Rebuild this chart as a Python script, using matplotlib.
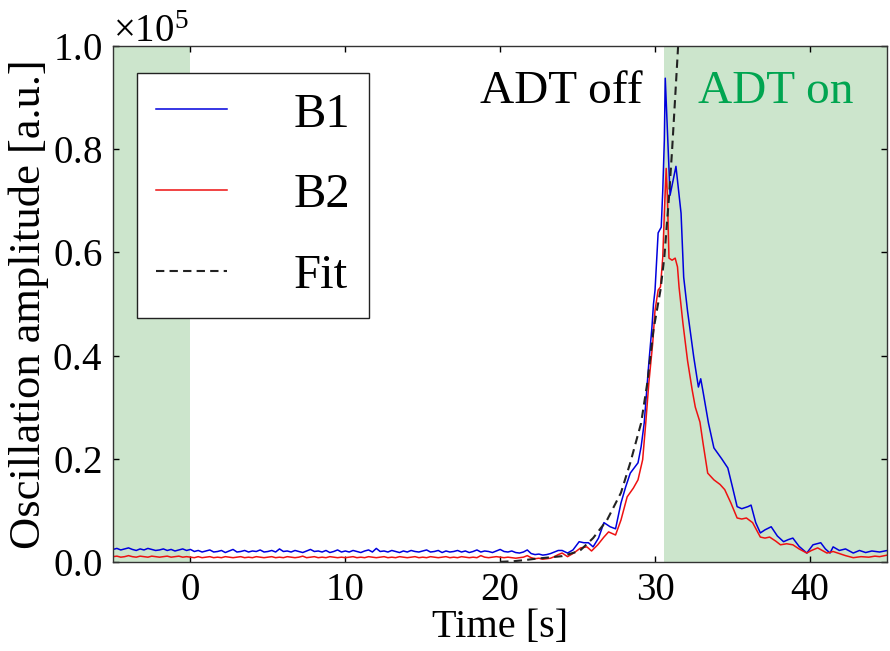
import numpy as np
import matplotlib
matplotlib.use("Agg")
import matplotlib.pyplot as plt

plt.rcParams['font.family'] = ['Liberation Serif', 'DejaVu Serif']
plt.rcParams['mathtext.fontset'] = 'custom'
plt.rcParams['mathtext.rm'] = 'Liberation Serif'
plt.rcParams['mathtext.it'] = 'Liberation Serif:italic'

# ---------------- data (amplitudes in units of 1e5) ----------------
# baseline sampling times (s)
t_base = np.arange(-5.0, 24.0, 0.25)

b1_base = [
    0.024, 0.026, 0.023, 0.025, 0.027, 0.024, 0.022, 0.025, 0.023, 0.026,
    0.024, 0.022, 0.023, 0.025, 0.022, 0.024, 0.021, 0.023, 0.025, 0.022,
    0.024, 0.020, 0.022, 0.019, 0.021, 0.023, 0.019, 0.020, 0.022, 0.018,
    0.021, 0.024, 0.019, 0.020, 0.022, 0.019, 0.021, 0.020, 0.023, 0.019,
    0.020, 0.022, 0.019, 0.025, 0.020, 0.021, 0.019, 0.022, 0.020, 0.018,
    0.021, 0.024, 0.020, 0.021, 0.019, 0.022, 0.018, 0.020, 0.023, 0.019,
    0.021, 0.019, 0.022, 0.020, 0.018, 0.021, 0.023, 0.019, 0.026, 0.020,
    0.021, 0.019, 0.022, 0.020, 0.018, 0.021, 0.019, 0.022, 0.020, 0.019,
    0.021, 0.023, 0.019, 0.020, 0.022, 0.018, 0.021, 0.019, 0.020, 0.022,
    0.019, 0.021, 0.018, 0.020, 0.023, 0.019, 0.021, 0.020, 0.018, 0.021,
    0.024, 0.020, 0.019, 0.021, 0.018, 0.017, 0.019, 0.023, 0.016, 0.014,
    0.015, 0.013, 0.014, 0.016, 0.019, 0.022,
]
b2_base = [
    0.010, 0.011, 0.009, 0.010, 0.012, 0.010, 0.009, 0.011, 0.010, 0.009,
    0.011, 0.010, 0.009, 0.010, 0.011, 0.009, 0.010, 0.011, 0.009, 0.010,
    0.009, 0.008, 0.010, 0.008, 0.009, 0.010, 0.008, 0.009, 0.008, 0.010,
    0.009, 0.008, 0.009, 0.010, 0.008, 0.009, 0.008, 0.010, 0.009, 0.008,
    0.009, 0.010, 0.008, 0.009, 0.008, 0.010, 0.009, 0.008, 0.009, 0.011,
    0.008, 0.009, 0.010, 0.008, 0.009, 0.008, 0.010, 0.009, 0.008, 0.009,
    0.008, 0.009, 0.010, 0.008, 0.009, 0.008, 0.010, 0.009, 0.008, 0.009,
    0.010, 0.008, 0.009, 0.008, 0.010, 0.009, 0.008, 0.009, 0.010, 0.008,
    0.009, 0.008, 0.010, 0.009, 0.008, 0.009, 0.010, 0.008, 0.009, 0.008,
    0.010, 0.009, 0.008, 0.009, 0.008, 0.012, 0.009, 0.008, 0.009, 0.010,
    0.009, 0.008, 0.009, 0.008, 0.007, 0.008, 0.009, 0.012, 0.008, 0.006,
    0.007, 0.005, 0.006, 0.007, 0.010, 0.014,
]

# instability / damping region
t_b1_peak = [24.0, 24.35, 24.7, 25.1, 25.4, 25.7, 26.0, 26.35, 26.7, 27.1,
             27.45, 27.8, 28.1, 28.4, 28.9, 29.1, 29.3, 29.5, 29.6, 29.8,
             29.9, 30.0, 30.2, 30.4, 30.5, 30.6, 30.66, 30.97, 31.35, 31.68,
             31.85, 32.1, 32.5, 32.8, 32.95, 33.1, 33.45, 33.8, 34.3, 34.7,
             35.0, 35.3, 35.6, 36.0, 36.2, 36.5, 36.8, 37.1, 37.5, 37.9,
             38.3, 38.6, 38.9, 39.3, 39.8, 40.2, 40.7, 41.0, 41.3, 41.5,
             41.9, 42.3, 42.8, 43.2, 43.6, 44.0, 44.5, 45.0]
b1_peak = [0.022, 0.017, 0.023, 0.039, 0.037, 0.037, 0.029, 0.046, 0.076, 0.068,
           0.064, 0.114, 0.145, 0.172, 0.192, 0.223, 0.269, 0.347, 0.386, 0.455,
           0.500, 0.527, 0.638, 0.649, 0.721, 0.818, 0.938, 0.711, 0.767, 0.676,
           0.552, 0.486, 0.397, 0.339, 0.355, 0.330, 0.269, 0.221, 0.200, 0.182,
           0.145, 0.107, 0.103, 0.107, 0.110, 0.076, 0.056, 0.062, 0.068, 0.050,
           0.039, 0.043, 0.046, 0.030, 0.017, 0.033, 0.037, 0.025, 0.017, 0.029,
           0.022, 0.025, 0.017, 0.022, 0.018, 0.021, 0.019, 0.022]

t_b2_peak = [24.0, 24.35, 24.75, 25.2, 25.6, 25.9, 26.3, 26.7, 27.0, 27.45,
             27.8, 28.2, 28.6, 28.9, 29.2, 29.4, 29.6, 29.85, 30.0, 30.2,
             30.35, 30.5, 30.6, 30.72, 30.8, 30.9, 31.1, 31.3, 31.45, 31.55,
             31.8, 32.1, 32.4, 32.6, 32.9, 33.1, 33.4, 33.8, 34.2, 34.5,
             34.9, 35.3, 35.6, 35.9, 36.3, 36.8, 37.1, 37.4, 37.8, 38.1,
             38.5, 38.9, 39.3, 39.8, 40.1, 40.5, 41.1, 41.5, 41.8, 42.3,
             42.8, 43.3, 43.8, 44.2, 44.5, 45.0]
b2_peak = [0.017, 0.010, 0.017, 0.027, 0.029, 0.021, 0.033, 0.048, 0.058, 0.052,
           0.081, 0.126, 0.143, 0.159, 0.198, 0.269, 0.347, 0.424, 0.488, 0.527,
           0.533, 0.591, 0.676, 0.763, 0.707, 0.589, 0.585, 0.589, 0.572, 0.533,
           0.463, 0.390, 0.333, 0.300, 0.271, 0.230, 0.172, 0.159, 0.150, 0.140,
           0.114, 0.085, 0.083, 0.085, 0.076, 0.048, 0.046, 0.048, 0.040, 0.033,
           0.035, 0.033, 0.025, 0.017, 0.022, 0.027, 0.017, 0.020, 0.017, 0.012,
           0.008, 0.010, 0.009, 0.011, 0.010, 0.013]

t_fit = [20.0, 20.8, 21.5, 22.3, 23.0, 24.0, 24.9, 25.2, 26.0, 26.9,
         27.8, 28.4, 29.1, 29.5, 29.9, 30.35, 30.6, 30.9, 31.1, 31.3,
         31.45, 31.6]
fit = [0.000, 0.001, 0.003, 0.006, 0.008, 0.011, 0.019, 0.023, 0.046, 0.081,
       0.134, 0.192, 0.269, 0.347, 0.450, 0.527, 0.591, 0.707, 0.798, 0.901,
       0.979, 1.060]

UNIT = 1e5
t_b1 = np.concatenate([t_base, t_b1_peak])
y_b1 = np.concatenate([b1_base, b1_peak]) * UNIT
t_b2 = np.concatenate([t_base, t_b2_peak])
y_b2 = np.concatenate([b2_base, b2_peak]) * UNIT
y_fit = np.array(fit) * UNIT

adt_off_span = (-5, 0)
adt_on_span = (30.6, 45)

# ---------------- figure ----------------
fig = plt.figure(figsize=(8.9, 6.51), dpi=100)
ax = fig.add_axes([0.127, 0.137, 0.870, 0.792])

ax.axvspan(*adt_off_span, color='green', alpha=0.2, lw=0)
ax.axvspan(*adt_on_span, color='green', alpha=0.2, lw=0)

ax.plot(t_b1, y_b1, color='#0000dd', lw=1.1, label='B1')
ax.plot(t_b2, y_b2, color='#ee1111', lw=1.1, label='B2')
ax.plot(t_fit, y_fit, color='#222222', lw=1.5, ls=(0, (4, 2.5)), label='Fit')

ax.set_xlim(-5, 45)
ax.set_ylim(0, 1.0e5)
ax.set_xticks([0, 10, 20, 30, 40])
ax.set_yticks(np.arange(0, 1.01e5, 0.2e5))
ax.ticklabel_format(style='sci', axis='y', scilimits=(0, 0), useMathText=True)
ax.yaxis.get_offset_text().set_fontsize(28)

ax.tick_params(direction='in', top=True, right=True, length=4.5, width=1,
               labelsize=28)
ax.tick_params(axis='x', pad=7)
ax.tick_params(axis='y', pad=8)
for s in ax.spines.values():
    s.set_linewidth(1.0)
    s.set_color('#333333')

ax.set_xlabel('Time [s]', fontsize=29, labelpad=0)
ax.set_ylabel('Oscillation amplitude [a.u.]', fontsize=32, labelpad=2)

ax.text(18.7, 0.89e5, 'ADT off', fontsize=34, color='black')
ax.text(32.8, 0.89e5, 'ADT on', fontsize=34, color='#00a550')

leg = ax.legend(loc='upper left', bbox_to_anchor=(0.031, 0.948),
                borderaxespad=0, fontsize=35, handlelength=1.46,
                handletextpad=1.35, labelspacing=0.76, borderpad=0.4,
                fancybox=False, framealpha=1)
leg.get_frame().set_edgecolor('#222222')
leg.get_frame().set_linewidth(1.0)

fig.savefig('out.png', dpi=100)
